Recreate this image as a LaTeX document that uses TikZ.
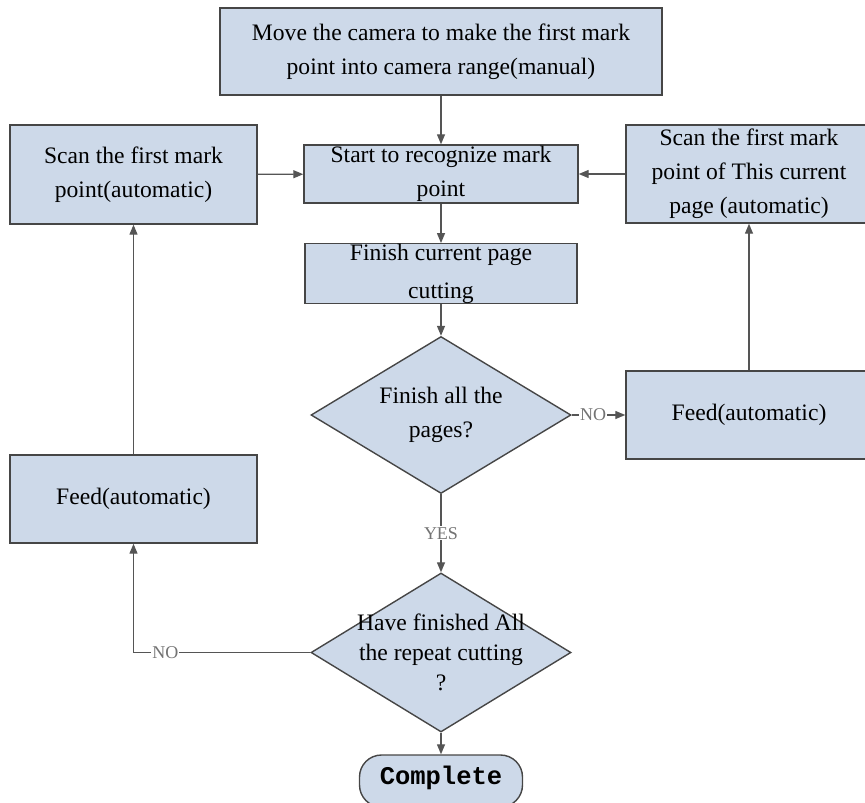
\documentclass[tikz,border=0pt]{standalone}
\usepackage{fontspec}
\setmainfont{Liberation Serif}
\setmonofont{Liberation Mono}
\usetikzlibrary{arrows.meta,shapes.geometric,positioning}
\definecolor{boxfill}{RGB}{205,217,233}
\definecolor{boxline}{RGB}{70,70,70}
\definecolor{flowline}{RGB}{85,85,85}

\begin{document}
\begin{tikzpicture}[x=1pt,y=-1pt,
    font=\fontsize{23.6}{34}\selectfont,
    procbox/.style={draw=boxline,fill=boxfill,line width=1.4pt,align=center,inner sep=0pt},
    decision/.style={draw=boxline,fill=boxfill,line width=1.4pt,shape=diamond,inner sep=0pt},
    dtext/.style={align=center,inner sep=0pt},
    endbox/.style={draw=boxline,fill=boxfill,line width=1.4pt,rounded corners=22pt,inner sep=0pt,font=\ttfamily\bfseries\fontsize{25.5}{30}\selectfont},
    flow/.style={draw=flowline,line width=1.3pt,-{Triangle[length=10pt,width=8pt]}},
    flowlbl/.style={fill=white,text=black!55,inner sep=1pt,font=\fontsize{18}{20}\selectfont}]
    \path[use as bounding box,clip] (0,0) rectangle (865,803);

    % boxes
    \node[procbox,minimum width=442,minimum height=87] (move) at (441,51.5) {Move the camera to make the first mark\\point into camera range(manual)};
    \node[procbox,minimum width=274,minimum height=58] (start) at (441,174) {Start to recognize mark\\point};
    \node[procbox,minimum width=247,minimum height=99] (scanL) at (133.5,174.5) {Scan the first mark\\point(automatic)};
    \node[procbox,minimum width=246,minimum height=98] (scanR) at (749,174) {Scan the first mark\\point of This current\\page (automatic)};
    \node[procbox,minimum width=272,minimum height=59] (finish) at (441,273.5) {Finish current page\\[4pt]cutting};
    \node[decision,minimum width=260,minimum height=157] (allpages) at (441,415) {};
    \node[dtext] (allpagesT) at (allpages) {Finish all the\\pages?};
    \node[procbox,minimum width=246,minimum height=88] (feedR) at (749,415) {Feed(automatic)};
    \node[procbox,minimum width=247,minimum height=88] (feedL) at (133.5,499) {Feed(automatic)};
    \node[decision,minimum width=260,minimum height=159] (repeat) at (441,652.5) {};
    \node[dtext,font=\fontsize{23.6}{30}\selectfont] (repeatT) at (repeat) {Have finished All\\the repeat cutting\\?};
    \node[endbox,minimum width=163,minimum height=52,text depth=12pt] (done) at (441,781) {Complete};

    % connectors
    \draw[flow] (move) -- (start);
    \draw[flow] (scanL) -- (start);
    \draw[flow] (scanR) -- (start);
    \draw[flow] (start) -- (finish);
    \draw[flow] (finish) -- (allpages);
    \draw[flow] (allpages.east) -- node[flowlbl,pos=0.4] (noR) {NO} (feedR.west);
    \draw[flow] (feedR) -- (scanR);
    \draw[flow] (feedL) -- (scanL);
    \draw[flow] (allpages.south) -- node[flowlbl] (yes) {YES} (repeat.north);
    \draw[flow] (repeat.west) -| node[flowlbl,pos=0.41] (noL) {NO} (feedL.south);
    \draw[flow] (repeat.south) -- (done);
\end{tikzpicture}
\end{document}
